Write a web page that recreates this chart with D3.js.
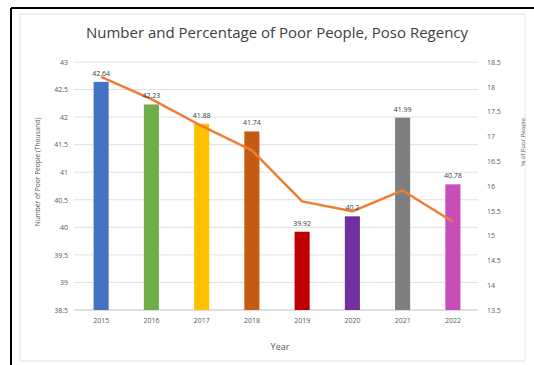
<!DOCTYPE html>
<html><head><meta charset="utf-8">
<script src="https://cdn.jsdelivr.net/npm/d3@7"></script>
<style>body{margin:0;background:#fff}svg{display:block}text{font-family:"Open Sans",sans-serif}</style>
</head><body><svg id="c" width="534" height="365"></svg>
<script>
const years = ["2015","2016","2017","2018","2019","2020","2021","2022"];
const poorThousand = [42.64, 42.23, 41.88, 41.74, 39.92, 40.2, 41.99, 40.78];
const poorLabels = ["42.64","42.23","41.88","41.74","39.92","40.2","41.99","40.78"];
const poorPercent = [18.20, 17.75, 17.21, 16.72, 15.69, 15.49, 15.91, 15.28];
const barColors = ["#4472C4","#70AD47","#FFC000","#C55A11","#C00000","#7030A0","#7F7F7F","#C94DB9"];
const leftTicks = [38.5,39,39.5,40,40.5,41,41.5,42,42.5,43];
const rightTicks = [13.5,14,14.5,15,15.5,16,16.5,17,17.5,18,18.5];

const svg = d3.select("#c");
// frame
svg.append("rect").attr("x",20).attr("y",14).attr("width",505).attr("height",347).attr("fill","#fff").attr("stroke","#e4e4e4");
svg.append("line").attr("x1",11).attr("x2",534).attr("y1",8).attr("y2",8).attr("stroke","#000").attr("stroke-width",2);
svg.append("line").attr("x1",11).attr("x2",11).attr("y1",8).attr("y2",365).attr("stroke","#000").attr("stroke-width",2);

const x = d3.scaleBand().domain(years).range([76,478]).paddingInner(0.7).paddingOuter(0.35);
const yL = d3.scaleLinear().domain([38.5,43]).range([310,62]);
const yR = d3.scaleLinear().domain([13.5,18.5]).range([310,62]);

// gridlines
svg.append("g").selectAll("line").data(leftTicks.slice(1)).join("line")
  .attr("x1",74).attr("x2",478).attr("y1",d=>yL(d)).attr("y2",d=>yL(d))
  .attr("stroke","#d9d9d9").attr("stroke-width",0.8);
svg.append("line").attr("x1",74).attr("x2",478).attr("y1",yL(38.5)).attr("y2",yL(38.5)).attr("stroke","#bfbfbf");

// axes labels
const gL = svg.append("g").attr("transform","translate(68,0)")
  .call(d3.axisLeft(yL).tickValues(leftTicks).tickSize(0).tickPadding(0).tickFormat(d3.format("")));
gL.select(".domain").remove();
gL.selectAll("text").attr("font-size",7).attr("fill","#595959").attr("font-family","Open Sans");
const gR = svg.append("g").attr("transform","translate(487,0)")
  .call(d3.axisRight(yR).tickValues(rightTicks).tickSize(0).tickPadding(0).tickFormat(d3.format("")));
gR.select(".domain").remove();
gR.selectAll("text").attr("font-size",7).attr("fill","#595959").attr("font-family","Open Sans");
const gX = svg.append("g").attr("transform","translate(0,318)")
  .call(d3.axisBottom(x).tickSize(0).tickPadding(0));
gX.select(".domain").remove();
gX.selectAll("text").attr("font-size",7).attr("fill","#595959").attr("font-family","Open Sans");

// bars
svg.append("g").selectAll("rect").data(years).join("rect")
  .attr("x",d=>x(d)).attr("width",x.bandwidth())
  .attr("y",(d,i)=>yL(poorThousand[i])).attr("height",(d,i)=>yL(38.5)-yL(poorThousand[i]))
  .attr("fill",(d,i)=>barColors[i]);

// line
const line = d3.line().x((d,i)=>x(years[i])+x.bandwidth()/2).y(d=>yR(d));
svg.append("path").datum(poorPercent).attr("d",line).attr("fill","none")
  .attr("stroke","#ED7D31").attr("stroke-width",2.5).attr("stroke-linejoin","round");

// bar labels
svg.append("g").selectAll("text").data(years).join("text")
  .attr("x",d=>x(d)+x.bandwidth()/2).attr("y",(d,i)=>yL(poorThousand[i])-6)
  .attr("text-anchor","middle").attr("font-size",7).attr("fill","#404040")
  .text((d,i)=>poorLabels[i]);

// titles
svg.append("text").attr("x",277).attr("y",38).attr("text-anchor","middle")
  .attr("font-size",15).attr("fill","#404040").text("Number and Percentage of Poor People, Poso Regency");
svg.append("text").attr("x",280).attr("y",350).attr("text-anchor","middle")
  .attr("font-size",9).attr("fill","#595959").text("Year");
svg.append("text").attr("transform","translate(40,172) rotate(-90)").attr("text-anchor","middle")
  .attr("font-size",6.6).attr("fill","#595959").text("Number of Poor People (Thousand)");
svg.append("text").attr("transform","translate(525,142) rotate(-90)").attr("text-anchor","middle")
  .attr("font-size",6).attr("fill","#595959").text("% of Poor People");
</script></body></html>
